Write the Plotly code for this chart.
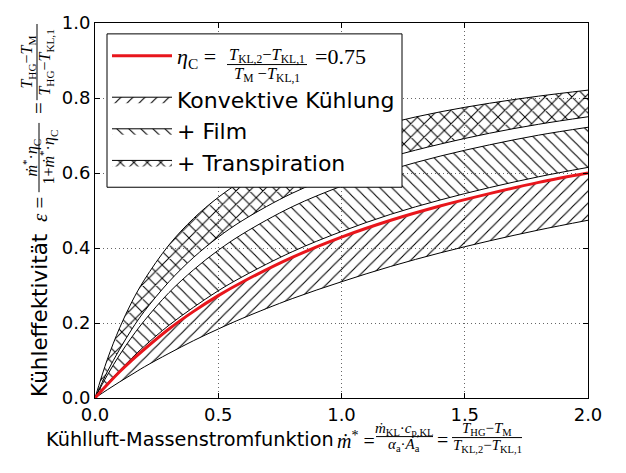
import plotly.graph_objects as go

# ---------------- data ----------------
m_star = [0, 0.05, 0.1, 0.15, 0.2, 0.3, 0.4, 0.5, 0.6, 0.8, 1.0, 1.2, 1.4, 1.6, 1.8, 2.0]

eta_075 = [0, 0.036, 0.070, 0.101, 0.130, 0.184, 0.231, 0.273, 0.310, 0.375, 0.429,
           0.474, 0.512, 0.545, 0.575, 0.600]

conv_lower = [0, 0.022, 0.043, 0.063, 0.083, 0.119, 0.153, 0.184, 0.213, 0.265, 0.310,
              0.351, 0.387, 0.419, 0.448, 0.474]
conv_upper = [0, 0.036, 0.070, 0.101, 0.130, 0.184, 0.231, 0.273, 0.310, 0.375, 0.429,
              0.474, 0.512, 0.545, 0.575, 0.600]

film_lower = [0, 0.039, 0.074, 0.107, 0.138, 0.194, 0.242, 0.286, 0.324, 0.390, 0.444,
              0.490, 0.528, 0.561, 0.590, 0.615]
film_upper = [0, 0.061, 0.115, 0.163, 0.206, 0.281, 0.342, 0.394, 0.438, 0.510, 0.565,
              0.609, 0.645, 0.675, 0.701, 0.722]

transp_lower = [0, 0.070, 0.130, 0.184, 0.231, 0.310, 0.375, 0.429, 0.474, 0.546, 0.600,
                0.643, 0.677, 0.706, 0.730, 0.750]
transp_upper = [0, 0.103, 0.187, 0.257, 0.315, 0.408, 0.479, 0.535, 0.580, 0.648, 0.697,
                0.734, 0.763, 0.786, 0.805, 0.821]

x_tickvals = [0, 0.5, 1.0, 1.5, 2.0]
x_ticktext = ["0.0", "0.5", "1.0", "1.5", "2.0"]
y_tickvals = [0, 0.2, 0.4, 0.6, 0.8, 1.0]
y_ticktext = ["0.0", "0.2", "0.4", "0.6", "0.8", "1.0"]

band_names = ["Konvektive Kühlung", "+ Film", "+ Transpiration"]
red_label = ("<span style=\"font-family:'Liberation Serif'\"><i>η</i><sub>C</sub> ="
             + "\u00a0" * 18 + "=0.75</span>")

# ---------------- styling ----------------
W, H = 626, 473
L, R, T, B = 95, 588, 19, 398
SANS = "DejaVu Sans"
SERIF = "Liberation Serif"
RED = "#e8161c"


def fx(px):
    return (px - L) / (R - L)


def fy(py):
    return (B - py) / (B - T)


fig = go.Figure()

bands = [
    (conv_lower, conv_upper, "/", 8.5, 0.13, band_names[0], 2),
    (film_lower, film_upper, "\\", 8.5, 0.13, band_names[1], 3),
    (transp_lower, transp_upper, "x", 9.5, 0.2, band_names[2], 4),
]
for lo, up, shape, size, solid, name, rank in bands:
    fig.add_trace(go.Scatter(
        x=m_star, y=lo, mode="lines", line=dict(color="black", width=1, shape="spline"),
        showlegend=False, hoverinfo="skip"))
    fig.add_trace(go.Scatter(
        x=m_star, y=up, mode="lines", line=dict(color="black", width=1, shape="spline"),
        fill="tonexty", fillcolor="rgba(255,255,255,0)",
        fillpattern=dict(shape=shape, size=size, solidity=solid, fgcolor="black",
                         bgcolor="rgba(255,255,255,0)", fillmode="replace"),
        name=name, legendrank=rank, legend="legend2", hoverinfo="skip"))

fig.add_trace(go.Scatter(
    x=m_star, y=eta_075, mode="lines", line=dict(color=RED, width=3, shape="spline"),
    name=red_label, legend="legend"))

axis_common = dict(
    showline=True, linecolor="black", linewidth=1, mirror="ticks",
    ticks="inside", ticklen=5, tickcolor="black", tickwidth=1,
    showgrid=True, gridcolor="rgba(0,0,0,0.6)", griddash="1px,3px", gridwidth=1,
    zeroline=False, tickfont=dict(family=SANS, size=18, color="black"),
)
fig.update_xaxes(range=[0, 2], tickvals=x_tickvals, ticktext=x_ticktext, **axis_common)
fig.update_yaxes(range=[0, 1], tickvals=y_tickvals, ticktext=y_ticktext, **axis_common)

annotations = []
shapes = []

# legend frame (both legend groups sit inside it)
shapes.append(dict(type="rect", xref="paper", yref="paper",
                   x0=(107 - L) / (R - L), x1=(402 - L) / (R - L),
                   y0=(B - 185) / (B - T), y1=(B - 30) / (B - T),
                   fillcolor="white", line=dict(color="black", width=1), layer="above"))


def text(px, py, s, size, family, angle=0):
    annotations.append(dict(
        x=fx(px), y=fy(py), xref="paper", yref="paper", text=s, showarrow=False,
        xanchor="center", yanchor="middle", textangle=angle,
        font=dict(family=family, size=size, color="black")))


def hbar(x0, x1, py):
    shapes.append(dict(type="line", xref="paper", yref="paper", x0=fx(x0), x1=fx(x1),
                       y0=fy(py), y1=fy(py), line=dict(color="black", width=1)))


def vbar(px, y0, y1):
    shapes.append(dict(type="line", xref="paper", yref="paper", x0=fx(px), x1=fx(px),
                       y0=fy(y0), y1=fy(y1), line=dict(color="black", width=1)))


# x-axis title
text(190, 440, "Kühlluft-Massenstromfunktion", 19.3, SANS)
text(356, 440, "<i>ṁ</i><sup>*</sup> =", 20, SERIF)
text(404, 429, "<i>ṁ</i><sub>KL</sub>·<i>c</i><sub>p,KL</sub>", 15, SERIF)
hbar(376, 433, 437)
text(404, 446, "<i>α</i><sub>a</sub>·<i>A</i><sub>a</sub>", 15, SERIF)
text(442, 440, "=", 20, SERIF)
text(487, 429, "<i>T</i><sub>HG</sub>−<i>T</i><sub>M</sub>", 15, SERIF)
hbar(452, 522, 438)
text(487, 447, "<i>T</i><sub>KL,2</sub>−<i>T</i><sub>KL,1</sub>", 15, SERIF)

# y-axis title (rotated)
text(40, 315, "Kühleffektivität", 21.5, SANS, -90)
text(40, 208, "<i>ε</i> =", 21, SERIF, -90)
text(31, 155, "<i>ṁ</i><sup>*</sup>·<i>η</i><sub>C</sub>", 16, SERIF, -90)
vbar(39, 120, 190)
text(48, 155, "1+<i>ṁ</i><sup>*</sup>·<i>η</i><sub>C</sub>", 16, SERIF, -90)
text(39, 105, "=", 21, SERIF, -90)
text(28, 59, "<i>T</i><sub>HG</sub>−<i>T</i><sub>M</sub>", 16, SERIF, -90)
vbar(37, 20, 97)
text(46, 59, "<i>T</i><sub>HG</sub>−<i>T</i><sub>KL,1</sub>", 16, SERIF, -90)

# legend fraction for eta_C
text(267, 52, "<i>T</i><sub>KL,2</sub>−<i>T</i><sub>KL,1</sub>", 16.5, SERIF)
hbar(227, 307, 61)
text(267, 71, "<i>T</i><sub>M</sub> −<i>T</i><sub>KL,1</sub>", 16.5, SERIF)

legend_common = dict(xanchor="left", yanchor="top", bgcolor="rgba(0,0,0,0)",
                     borderwidth=0, font=dict(family=SANS, size=22, color="black"),
                     itemwidth=60, traceorder="normal")

fig.update_layout(
    width=W, height=H,
    margin=dict(l=L, r=W - R, t=T, b=H - B, pad=0),
    paper_bgcolor="white", plot_bgcolor="white",
    font=dict(family=SANS, color="black"),
    legend=dict(x=fx(107), y=fy(31), **legend_common),
    legend2=dict(x=fx(107), y=fy(75), **legend_common),
    annotations=annotations, shapes=shapes,
)

fig.write_html("out.html")
